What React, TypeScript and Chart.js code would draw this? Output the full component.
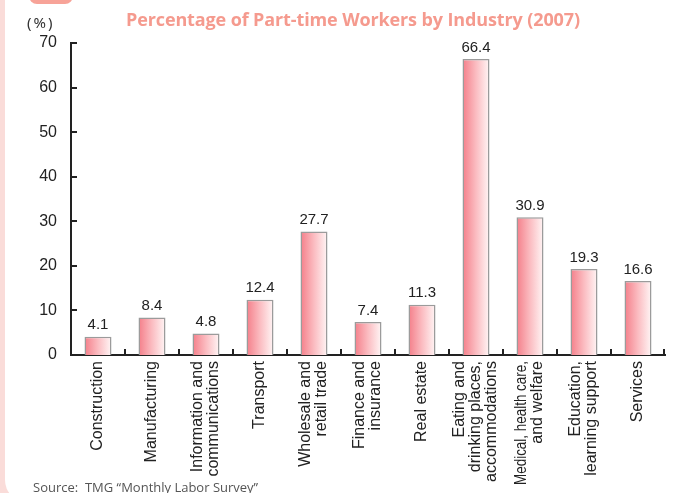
import React, { useEffect, useRef } from "react";
import { Chart, registerables } from "chart.js";

Chart.register(...registerables);

const categories: string[][] = [
  ["Construction"],
  ["Manufacturing"],
  ["Information and", "communications"],
  ["Transport"],
  ["Wholesale and", "retail trade"],
  ["Finance and", "insurance"],
  ["Real estate"],
  ["Eating and", "drinking places,", "accommodations"],
  ["Medical, health care,", "and welfare"],
  ["Education,", "learning support"],
  ["Services"],
];
const values: number[] = [4.1, 8.4, 4.8, 12.4, 27.7, 7.4, 11.3, 66.4, 30.9, 19.3, 16.6];
const yMin = 0;
const yMax = 70;
const yStep = 10;

const titleText = "Percentage of Part-time Workers by Industry (2007)";
const unitText = "(%)";
const sourceText = "Source:  TMG “Monthly Labor Survey”";

const LABEL_FONT = '16px "Liberation Sans", Arial, sans-serif';
const VALUE_FONT = '15px "Liberation Sans", Arial, sans-serif';
const TEXT_COLOR = "#222222";

const decorPlugin = {
  id: "decor",
  afterDatasetsDraw(chart: any) {
    const ctx = chart.ctx as CanvasRenderingContext2D;
    const area = chart.chartArea;
    const xs = chart.scales.x;
    const ys = chart.scales.y;
    ctx.save();
    // value labels
    ctx.font = VALUE_FONT;
    ctx.fillStyle = TEXT_COLOR;
    ctx.textAlign = "center";
    ctx.textBaseline = "bottom";
    const meta = chart.getDatasetMeta(0);
    meta.data.forEach((bar: any, i: number) => {
      ctx.fillText(values[i].toFixed(1), bar.x, bar.y - 4);
    });
    // y ticks (inside)
    ctx.strokeStyle = TEXT_COLOR;
    ctx.lineWidth = 2;
    for (let v = yMin + yStep; v <= yMax; v += yStep) {
      const y = Math.round(ys.getPixelForValue(v));
      ctx.beginPath();
      ctx.moveTo(area.left, y);
      ctx.lineTo(area.left + 6, y);
      ctx.stroke();
    }
    // x ticks at category boundaries (inside)
    const step = (area.right - area.left) / values.length;
    for (let i = 1; i <= values.length; i++) {
      const x = Math.round(area.left + i * step) - (i === values.length ? 1 : 0);
      ctx.beginPath();
      ctx.moveTo(x, area.bottom);
      ctx.lineTo(x, area.bottom - 6);
      ctx.stroke();
    }
    // category labels, rotated
    ctx.font = LABEL_FONT;
    ctx.fillStyle = TEXT_COLOR;
    ctx.textAlign = "right";
    ctx.textBaseline = "middle";
    const lh = 16;
    const maxLen = 124;
    categories.forEach((lines, i) => {
      const cx = xs.getPixelForValue(i);
      lines.forEach((line, j) => {
        const off = (j - (lines.length - 1) / 2) * lh;
        ctx.save();
        ctx.translate(cx + off, area.bottom + 6);
        ctx.rotate(-Math.PI / 2);
        ctx.fillText(line, 0, 0, maxLen);
        ctx.restore();
      });
    });
    ctx.restore();
  },
};

export default function App() {
  const ref = useRef<HTMLCanvasElement | null>(null);

  useEffect(() => {
    if (!ref.current) return;
    const chart = new Chart(ref.current, {
      type: "bar",
      data: {
        labels: categories.map((c) => c.join(" ")),
        datasets: [
          {
            data: values,
            backgroundColor: (c: any) => {
              const ch = c.chart;
              const area = ch.chartArea;
              if (!area || c.dataIndex === undefined) return "#f7a0a8";
              const cx = ch.scales.x.getPixelForValue(c.dataIndex);
              const w = ((area.right - area.left) / values.length) * 0.5;
              const g = ch.ctx.createLinearGradient(cx - w / 2, 0, cx + w / 2, 0);
              g.addColorStop(0, "#f47e89");
              g.addColorStop(0.5, "#fbbcc1");
              g.addColorStop(1, "#fff6f6");
              return g;
            },
            borderColor: "#9b9b9b",
            borderWidth: 1.5,
            categoryPercentage: 1,
            barPercentage: 0.5,
          },
        ],
      },
      options: {
        responsive: false,
        animation: false,
        layout: { padding: { top: 43, right: 10, bottom: 138, left: 0 } },
        plugins: { legend: { display: false }, tooltip: { enabled: false }, title: { display: false } },
        scales: {
          x: {
            grid: { display: false, drawTicks: false },
            border: { display: true, color: TEXT_COLOR, width: 2 },
            ticks: { display: false },
          },
          y: {
            min: yMin,
            max: yMax,
            grid: { display: false, drawTicks: false },
            border: { display: true, color: TEXT_COLOR, width: 2 },
            ticks: {
              stepSize: yStep,
              padding: 14,
              color: TEXT_COLOR,
              font: { family: '"Liberation Sans", Arial, sans-serif', size: 16 },
            },
            afterFit: (s: any) => {
              s.width = 71;
            },
          },
        },
      },
      plugins: [decorPlugin],
    });
    return () => chart.destroy();
  }, []);

  return (
    <div
      style={{
        position: "fixed",
        left: 0,
        top: 0,
        width: 675,
        height: 493,
        background: "#fadcd9",
        overflow: "hidden",
      }}
    >
      <div
        style={{
          position: "absolute",
          left: 5,
          top: -30,
          width: 700,
          height: 532,
          background: "#ffffff",
          borderBottomLeftRadius: 22,
        }}
      />
      <div
        style={{
          position: "absolute",
          left: 29,
          top: -20,
          width: 44,
          height: 24,
          borderRadius: 8,
          background: "#f7a398",
        }}
      />
      <canvas ref={ref} width={675} height={493} style={{ position: "absolute", left: 0, top: 0 }} />
      <div
        style={{
          position: "absolute",
          left: 126,
          top: 7,
          whiteSpace: "nowrap",
          font: 'bold 18px "Open Sans", sans-serif',
          letterSpacing: "-0.12px",
          color: "#f59a8e",
          lineHeight: "24px",
        }}
      >
        {titleText}
      </div>
      <div
        style={{
          position: "absolute",
          left: 27,
          top: 12,
          whiteSpace: "pre",
          font: '15px "Noto Sans", sans-serif',
          letterSpacing: "2px",
          color: "#333333",
          lineHeight: "20px",
        }}
      >
        {unitText}
      </div>
      <div
        style={{
          position: "absolute",
          left: 33,
          top: 478,
          whiteSpace: "pre",
          font: '13px "Open Sans", sans-serif',
          color: "#555555",
          lineHeight: "18px",
        }}
      >
        {sourceText}
      </div>
    </div>
  );
}
